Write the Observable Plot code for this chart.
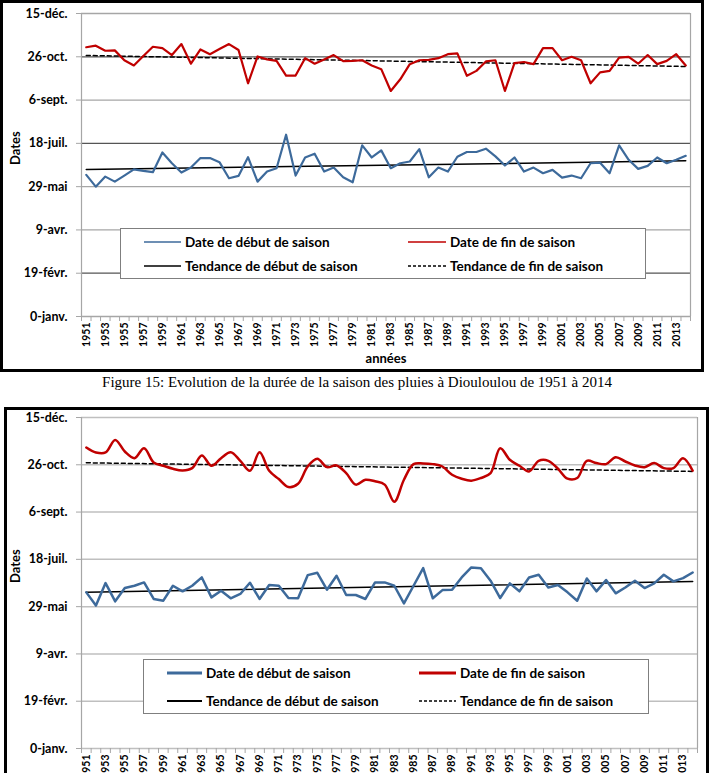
<!DOCTYPE html>
<html><head><meta charset="utf-8">
<script src="https://cdn.jsdelivr.net/npm/d3@7"></script>
<script src="https://cdn.jsdelivr.net/npm/@observablehq/plot@0.6"></script>
<style>
body{margin:0;background:#fff;width:714px;height:773px;overflow:hidden;position:relative;font-family:Lato,sans-serif;}
.frame{position:absolute;border:3px solid #000;box-sizing:content-box;overflow:hidden;background:#fff;}
.frame svg{position:absolute;left:0;top:0;}
.legend{position:absolute;background:#fff;border:1px solid #7f7f7f;box-sizing:border-box;}
.item{position:absolute;display:flex;align-items:center;font-weight:bold;font-size:13.5px;white-space:nowrap;height:18px;color:#000;}
.item svg{position:static;margin-right:4px;}
.caption{position:absolute;left:0;width:714px;text-align:center;font-family:"Liberation Serif","Times New Roman",serif;font-size:15px;color:#000;}
</style></head>
<body>
<div id="f1" class="frame" style="left:0;top:0;width:698px;height:366px"></div>
<div class="caption" style="top:374px">Figure 15: Evolution de la durée de la saison des pluies à Diouloulou de 1951 à 2014</div>
<div id="f2" class="frame" style="left:4px;top:407px;width:699px;height:391px"></div>
<script>
// ---- data (day of year, Excel serial: 0 = "0-janv.") ----
const years = d3.range(1951, 2015);
const yTickValues = [0, 50, 100, 150, 200, 250, 300, 350];
const yTickLabels = ["0-janv.", "19-févr.", "9-avr.", "29-mai", "18-juil.", "6-sept.", "26-oct.", "15-déc."];
const labelYears = d3.range(1951, 2014, 2);
const legendLabels = ["Date de début de saison", "Date de fin de saison", "Tendance de début de saison", "Tendance de fin de saison"];
const captionText = "Figure 15: Evolution de la durée de la saison des pluies à Diouloulou de 1951 à 2014";

// Figure 1 (upper chart)
const startDates1 = [163.6,150,161.6,155.8,162.8,170,168.2,166.7,189.5,177,166.3,172,183,183,178.3,159.7,162.4,184,155.8,167.4,171.3,210,162.8,183.7,188,167.4,172,160.8,155,197.7,183.7,191.9,171.3,177,179,193.4,160.8,172,167.4,184.5,190,190,193.8,185,174.4,183.7,167.4,172,165.5,169.4,160.5,162.8,159.7,177,177.7,165.5,197.7,181,170.5,174,183.7,177,181,185.6];
const endDates1 = [311,312.8,307,307.4,296,290,301,311.6,310,302,314.7,292,308.5,303,309,314.7,307.8,269.4,300.4,297,295.3,278.3,278.3,298.4,292,297,302,295,295.3,296,290,285.7,260.5,274,291.5,296,296.5,298.4,303,303.9,278,283.7,294.6,296,260.5,292.6,294,291.5,310,310,296,300,296,269.4,282,283.7,299,300,292,302,291.5,295.3,303,290];
const trendYears = [1951, 2014];
const startTrend1 = [169.8, 179.8];
const endTrend1 = [301.5, 288.8];

// Figure 2 (lower chart)
const startDates2 = [165.1,151.1,174.9,155.6,169.7,172.1,175.6,158.1,156.3,172.1,166.2,172.1,180.9,159.8,166.9,158.8,163.4,175.3,158.1,172.8,172.1,159.1,158.8,183.3,185.8,167.9,182.6,162.3,162.3,158.1,175.6,175.6,172.1,153.5,172.1,190.7,158.8,167.5,167.9,180.9,191.4,190.7,177.4,159.1,174.6,166.2,180.9,183.7,170.3,172.8,165.1,156.3,179.8,166.2,178.1,164.1,170.3,177.4,169.7,174.6,183.7,176.7,180.2,186.1];
const endDates2 = [318.2,313,313,326.3,314,307,317.5,302.5,299,295.8,294,296.5,309.8,299,307,313.3,304.2,293.7,313.3,293.7,284.9,276.5,280,298.2,306.3,297.5,299.3,291.2,279,284.2,282.5,279,261,284.2,300.7,301.4,300.7,298.2,289.5,285.3,283.2,286,291.2,317.5,305.3,299,293,304.2,304.2,295.8,285.3,286,304.2,301.8,300.7,308,303.5,299.3,297.5,301.8,296.5,296.5,307,293.7];
const startTrend2 = [165.1, 176.7];
const endTrend2 = [302.1, 293];

const BLUE = "#3d6a9b", RED = "#c00000";
const bounds = d3.range(1950.5, 2015, 1);

function makeChart(o) {
  const s = years.map((y, i) => ({year: y, v: o.start[i]}));
  const e = years.map((y, i) => ({year: y, v: o.end[i]}));
  const ts = trendYears.map((y, i) => ({year: y, v: o.startTrend[i]}));
  const te = trendYears.map((y, i) => ({year: y, v: o.endTrend[i]}));
  return Plot.plot({
    width: o.width, height: o.height,
    marginLeft: o.ml, marginRight: o.mr, marginTop: o.mt, marginBottom: o.mb,
    x: {domain: [1950.5, 2014.5], axis: null},
    y: {domain: [0, 350], axis: null},
    style: {fontFamily: "Lato, sans-serif", fontWeight: "bold", fontSize: "12.5px", color: "#000", background: "transparent", overflow: "visible"},
    marks: [
      Plot.ruleY(yTickValues, {stroke: o.grid, strokeWidth: o.gridW}),
      Plot.ruleX([1950.5, 2014.5], {stroke: "#a6a6a6", strokeWidth: 1.2}),
      Plot.axisY({ticks: yTickValues, tickFormat: d => yTickLabels[yTickValues.indexOf(d)], tickSize: 5, tickPadding: 9, stroke: "#a6a6a6", strokeOpacity: 1, label: null, fontSize: 12.5}),
      Plot.axisX({ticks: bounds, tickSize: 5, tickFormat: () => "", stroke: "#a6a6a6", strokeOpacity: 1, label: null}),
      Plot.axisX({ticks: labelYears, tickSize: 0, tickPadding: 6, tickRotate: -90, tickFormat: d => String(d), label: null, fontSize: 10.5}),
      Plot.text(["Dates"], {frameAnchor: "left", dx: -66, rotate: -90, fontSize: 13}),
      Plot.text(["années"], {frameAnchor: "bottom", dy: 46, fontSize: 13}),
      Plot.line(ts, {x: "year", y: "v", stroke: "#000", strokeWidth: 1.5}),
      Plot.line(te, {x: "year", y: "v", stroke: "#000", strokeWidth: 1.5, strokeDasharray: "4,3"}),
      Plot.line(s, {x: "year", y: "v", stroke: BLUE, strokeWidth: o.lw}),
      Plot.line(e, {x: "year", y: "v", stroke: RED, strokeWidth: o.lw, curve: o.curveEnd})
    ]
  });
}

function makeLegend(parent, L) {
  const box = document.createElement("div");
  box.className = "legend";
  Object.assign(box.style, {left: L.left + "px", top: L.top + "px", width: L.width + "px", height: L.height + "px"});
  const specs = [
    {label: legendLabels[0], color: BLUE, w: L.lw, dash: null, col: 0, row: 0},
    {label: legendLabels[1], color: RED, w: L.lw, dash: null, col: 1, row: 0},
    {label: legendLabels[2], color: "#000", w: L.tw, dash: null, col: 0, row: 1},
    {label: legendLabels[3], color: "#000", w: 1.3, dash: "3,2", col: 1, row: 1}
  ];
  for (const sp of specs) {
    const it = document.createElement("div");
    it.className = "item";
    it.style.left = L.cols[sp.col] + "px";
    it.style.top = (L.rows[sp.row] - 9) + "px";
    const len = L.len[sp.col];
    const ns = "http://www.w3.org/2000/svg";
    const svg = document.createElementNS(ns, "svg");
    svg.setAttribute("width", len); svg.setAttribute("height", 18);
    const ln = document.createElementNS(ns, "line");
    ln.setAttribute("x1", 0); ln.setAttribute("x2", len);
    ln.setAttribute("y1", 9); ln.setAttribute("y2", 9);
    ln.setAttribute("stroke", sp.color); ln.setAttribute("stroke-width", sp.w);
    if (sp.dash) ln.setAttribute("stroke-dasharray", sp.dash);
    svg.appendChild(ln);
    const tx = document.createElement("span");
    tx.textContent = sp.label;
    it.appendChild(svg); it.appendChild(tx);
    box.appendChild(it);
  }
  parent.appendChild(box);
}

const f1 = document.getElementById("f1");
f1.appendChild(makeChart({
  width: 698, height: 366, ml: 78, mr: 11, mt: 10, mb: 53,
  start: startDates1, end: endDates1, startTrend: startTrend1, endTrend: endTrend1,
  grid: d => (d === 50 || d === 200 || d === 300) ? "#555" : "#a6a6a6", gridW: 1.3, lw: 2.2, curveEnd: "linear"
}));
makeLegend(f1, {left: 117, top: 225, width: 526, height: 51, rows: [13, 37], cols: [23, 287], len: [37, 38], lw: 1.3, tw: 1.3});

const f2 = document.getElementById("f2");
f2.appendChild(makeChart({
  width: 699, height: 391, ml: 74, mr: 9, mt: 7, mb: 53,
  start: startDates2, end: endDates2, startTrend: startTrend2, endTrend: endTrend2,
  grid: "#bfbfbf", gridW: 1.5, lw: 2.5, curveEnd: "catmull-rom"
}));
makeLegend(f2, {left: 136, top: 249, width: 506, height: 55, rows: [13, 41], cols: [23, 275], len: [35, 37], lw: 3, tw: 2});
</script>
</body></html>
